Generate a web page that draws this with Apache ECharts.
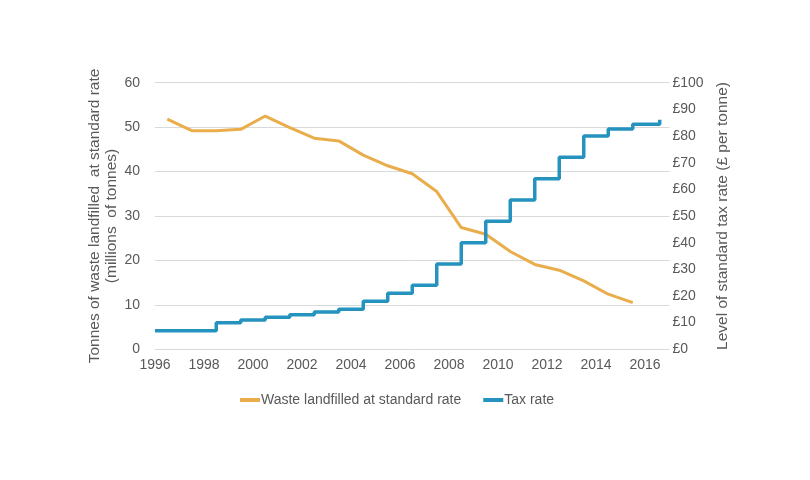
<!DOCTYPE html>
<html>
<head>
<meta charset="utf-8">
<script src="https://cdn.jsdelivr.net/npm/echarts@6/dist/echarts.min.js"></script>
<style>
html,body{margin:0;padding:0;background:#fff;}
#chart{width:810px;height:480px;}
</style>
</head>
<body>
<div id="chart"></div>
<script>
// Waste landfilled (millions of tonnes), plotted at mid fiscal year
const wasteYears = [1996.5,1997.5,1998.5,1999.5,2000.5,2001.5,2002.5,2003.5,2004.5,2005.5,2006.5,2007.5,2008.5,2009.5,2010.5,2011.5,2012.5,2013.5,2014.5,2015.5];
const wasteValues = [51.8,49.2,49.2,49.5,52.5,49.9,47.5,46.9,43.7,41.3,39.5,35.5,27.4,25.9,22.0,19.1,17.8,15.4,12.4,10.5];
// Standard tax rate (£ per tonne), change points
const taxYears = [1996,1998.5,1999.5,2000.5,2001.5,2002.5,2003.5,2004.5,2005.5,2006.5,2007.5,2008.5,2009.5,2010.5,2011.5,2012.5,2013.5,2014.5,2015.5,2016.6];
const taxValues = [7,10,11,12,13,14,15,18,21,24,32,40,48,56,64,72,80,82.6,84.4,86.1];
const xTicks = [1996,1998,2000,2002,2004,2006,2008,2010,2012,2014,2016];

const wasteData = wasteYears.map((y,i)=>[y,wasteValues[i]]);
const taxData = taxYears.map((y,i)=>[y,taxValues[i]]);

const gray = '#595959';
const font = 'Liberation Sans, Arial, sans-serif';
const chart = echarts.init(document.getElementById('chart'));
chart.setOption({
  backgroundColor:'#fff',
  animation:false,
  textStyle:{fontFamily:font},
  grid:{left:155, right:140.5, top:82.7, bottom:130.7, containLabel:false},
  legend:{
    left:235, top:388,
    itemWidth:20, itemHeight:4, itemGap:22,
    icon:'rect',
    textStyle:{color:gray, fontSize:14, fontFamily:font, padding:[0,0,0,-4]},
    data:['Waste landfilled at standard rate','Tax rate']
  },
  xAxis:{
    type:'value', min:1996, max:2017, interval:1,
    axisLine:{show:false}, axisTick:{show:false}, splitLine:{show:false},
    axisLabel:{color:gray, fontSize:14, margin:9, fontFamily:font,
      formatter:function(v){return xTicks.indexOf(v)>=0 ? String(v) : '';}}
  },
  yAxis:[{
    type:'value', min:0, max:60, interval:10,
    axisLine:{show:false}, axisTick:{show:false},
    splitLine:{lineStyle:{color:'#d9d9d9', width:1}},
    axisLabel:{color:gray, fontSize:14, margin:15, fontFamily:font},
    name:'Tonnes of waste landfilled  at standard rate\n(millions  of tonnes)',
    nameLocation:'middle', nameGap:34.5, nameRotate:90, nameMoveOverlap:false,
    nameTextStyle:{color:gray, fontSize:15.5, lineHeight:17, fontFamily:font, align:'center'}
  },{
    type:'value', min:0, max:100, interval:10, position:'right',
    axisLine:{show:false}, axisTick:{show:false}, splitLine:{show:false},
    axisLabel:{color:gray, fontSize:14, margin:3, fontFamily:font, formatter:'£{value}'},
    name:'Level of standard tax rate (£ per tonne)',
    nameLocation:'middle', nameGap:45, nameRotate:90, nameMoveOverlap:false,
    nameTextStyle:{color:gray, fontSize:15.5, fontFamily:font}
  }],
  series:[{
    name:'Waste landfilled at standard rate',
    type:'line', yAxisIndex:0, data:wasteData, symbol:'none',
    itemStyle:{color:'#E9AE4B'},
    lineStyle:{color:'#E9AE4B', width:3}
  },{
    name:'Tax rate',
    type:'line', yAxisIndex:1, data:taxData, symbol:'none', step:'end',
    itemStyle:{color:'#2593BE'},
    lineStyle:{color:'#2593BE', width:3.5}
  }]
});
</script>
</body>
</html>
